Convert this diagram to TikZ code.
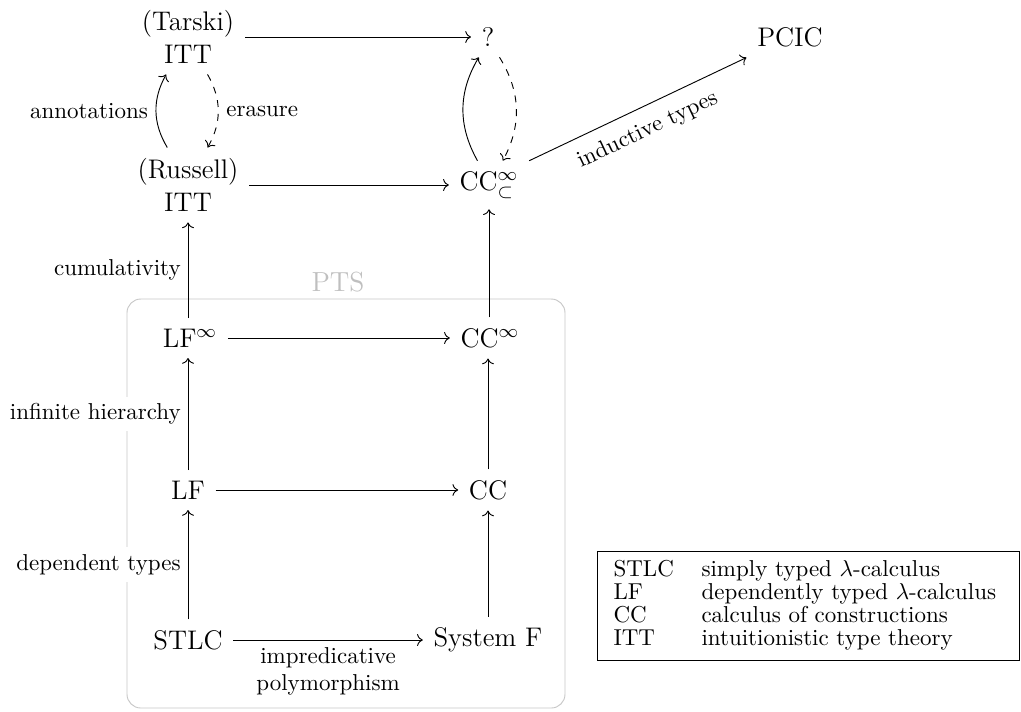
\documentclass[tikz,border=0pt]{standalone}
\usetikzlibrary{arrows.meta}
\begin{document}
\begin{tikzpicture}[x=0.4348pt, y=-0.4348pt,
  main/.style={font=\fontsize{11.7}{14.4}\selectfont, inner sep=4.5pt},
  lbl/.style={font=\normalsize, fill=white, inner sep=3pt},
  arr/.style={->},
  dasharr/.style={->, dashed},
  ptsbox/.style={draw=black!22, rounded corners=6pt},
]
\useasboundingbox (0,0) rectangle (1021,711);

% PTS region
\draw[ptsbox] (127,299) rectangle (565,708);
\node[font=\large, text=black!25] (pts) at (338,282) {PTS};

% nodes
\node[main, align=center] (tarski) at (188,37) {(Tarski)\\ITT};
\node[main] (q) at (488,37) {?};
\node[main] (pcic) at (790,37) {PCIC};
\node[main, align=center] (russell) at (188,185) {(Russell)\\ITT};
\node[main] (ccsub) at (489,185) {CC$^\infty_\subset$};
\node[main] (lfinf) at (190,338) {LF$^\infty$};
\node[main] (ccinf) at (490,338) {CC$^\infty$};
\node[main] (lf) at (188,490) {LF};
\node[main] (cc) at (488,490) {CC};
\node[main] (stlc) at (188,640) {STLC};
\node[main] (sysf) at (488,640) {System F};

% horizontal arrows
\draw[arr] (tarski) -- (q);
\draw[arr] (russell) -- (ccsub);
\draw[arr] (lfinf) -- (ccinf);
\draw[arr] (lf) -- (cc);
\draw[arr] (stlc) -- node[below, align=center, inner sep=3pt] {impredicative\\polymorphism} (sysf);

% vertical arrows
\draw[arr] (lfinf.north -| russell) -- node[lbl, left] {cumulativity} (russell);
\draw[arr] (ccinf.north -| ccsub) -- (ccsub);
\draw[arr] (lf) -- node[lbl, left] {infinite hierarchy} (lfinf.south -| lf);
\draw[arr] (cc) -- (ccinf.south -| cc);
\draw[arr] (stlc) -- node[lbl, left] {dependent types} (lf);
\draw[arr] (sysf) -- (cc);

% curved arrows
\draw[arr] ([xshift=-9pt]russell.north) to[bend left=30] node[left] {annotations} ([xshift=-9.5pt]tarski.south);
\draw[dasharr] ([xshift=8.5pt]tarski.south) to[bend left=30] node[right] {erasure} ([xshift=8.5pt]russell.north);
\draw[arr] ([xshift=-5pt]ccsub.north) to[bend left=30] ([xshift=-4pt]q.south);
\draw[dasharr] ([xshift=5pt]q.south) to[bend left=30] ([xshift=6pt]ccsub.north);

% inductive types
\draw[arr] (ccsub.north east) -- node[below=2pt, sloped] {inductive types} (pcic.south west);

% legend
\node[draw, anchor=south west, inner xsep=0pt, inner ysep=3.5pt, text width=183.5pt, align=left] (legend) at (597,661) {%
\renewcommand{\arraystretch}{0.84}%
\begin{tabular}{@{\hspace{7pt}}ll}
STLC & simply typed $\lambda$-calculus\\
LF & dependently typed $\lambda$-calculus\\
CC & calculus of constructions\\
ITT & intuitionistic type theory
\end{tabular}};
\end{tikzpicture}
\end{document}
